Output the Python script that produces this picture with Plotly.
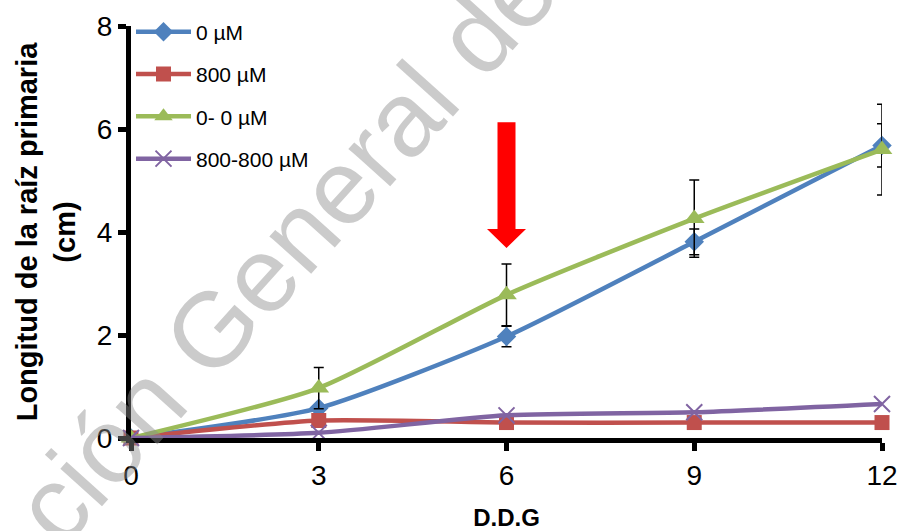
import plotly.graph_objects as go

ddg = [0, 3, 6, 9, 12]
s0 = [0, 0.58, 1.97, 3.81, 5.68]
s0_err = [0, 0, 0.2, 0.25, 0.42]
s800 = [0, 0.34, 0.3, 0.3, 0.3]
s00 = [0, 0.97, 2.78, 4.26, 5.6]
s00_err = [0, 0.4, 0.6, 0.75, 0.88]
s800800 = [0, 0.1, 0.44, 0.5, 0.66]

names = ["0 µM", "800 µM", "0- 0 µM", "800-800 µM"]
colors = ["#4F81BD", "#C0504D", "#9BBB59", "#8064A2"]
symbols = ["diamond", "square", "triangle-up", "x-thin"]
values = [s0, s800, s00, s800800]
errs = [s0_err, None, s00_err, None]
msizes = [15, 15, 18, 16]

fig = go.Figure()

# watermark
fig.add_annotation(text="ción General de", xref="paper", yref="paper",
                   x=0.205, y=0.46, xanchor="center", yanchor="middle",
                   textangle=-48, showarrow=False,
                   font=dict(family="Liberation Sans, Arial", size=106, color="rgba(140,140,140,0.45)"))

for i, (nm, c, sym, v, e, ms) in enumerate(zip(names, colors, symbols, values, errs, msizes)):
    marker = dict(symbol=sym, size=ms, color=c)
    if sym == "x-thin":
        marker["line"] = dict(color=c, width=2)
    fig.add_trace(go.Scatter(
        x=ddg, y=v, name=nm, mode="lines+markers",
        line=dict(color=c, width=4.5, shape="spline", smoothing=0.6),
        marker=marker,
        error_y=dict(type="data", array=e, visible=e is not None,
                     color="black", thickness=1.5, width=5),
        cliponaxis=False,
        legendgroup=str(i),
    ))

# red arrow at day 6
fig.add_shape(type="path", xref="x", yref="y", xsizemode="pixel", xanchor=6,
              path="M -9,6.13 L 9,6.13 L 9,4.06 L 19.5,4.06 L 0,3.69 L -19.5,4.06 L -9,4.06 Z",
              fillcolor="#FF0000", line=dict(width=0), layer="above")

fig.update_layout(
    width=904, height=531,
    margin=dict(l=131, r=22, t=22, b=93),
    paper_bgcolor="white", plot_bgcolor="white",
    font=dict(family="Liberation Sans, Arial", color="black"),
    showlegend=True,
    legend=dict(x=0.0, y=1.035, xanchor="left", yanchor="top",
                font=dict(size=21), tracegroupgap=12, bgcolor="rgba(0,0,0,0)",
                itemwidth=55),
    xaxis=dict(range=[0, 12], tickvals=[0, 3, 6, 9, 12], showgrid=False, zeroline=False,
               showline=True, linecolor="black", linewidth=5, automargin=False,
               ticks="outside", ticklen=8, tickwidth=5, tickcolor="black",
               tickfont=dict(size=28),
               title=dict(text="<b>D.D.G</b>", font=dict(size=24), standoff=22)),
    yaxis=dict(range=[0, 8], tickvals=[0, 2, 4, 6, 8], showgrid=False, zeroline=False,
               showline=True, linecolor="black", linewidth=5, automargin=False,
               ticks="outside", ticklen=8, tickwidth=5, tickcolor="black",
               tickfont=dict(size=28),
               title=dict(text="<b>Longitud de la raíz primaria<br>(cm)</b>", font=dict(size=29), standoff=14)),
)

fig.write_html("out.html")
